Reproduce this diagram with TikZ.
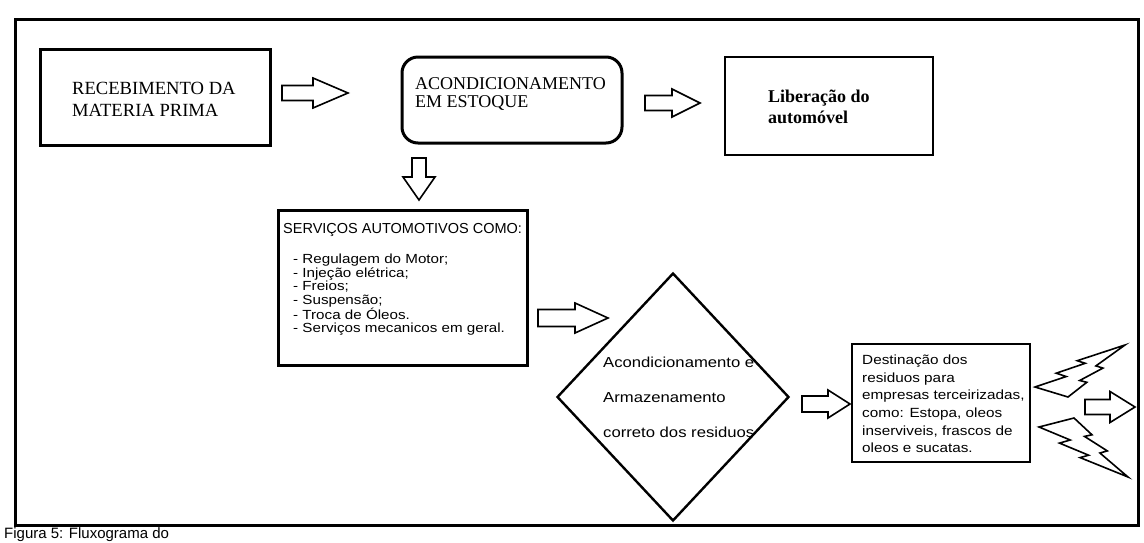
\documentclass[tikz,border=0pt]{standalone}
\usepackage{fontspec}
\setmainfont{Liberation Serif}
\newfontfamily\arial{Liberation Sans}
\newfontfamily\arialwide[FakeStretch=1.15]{Liberation Sans}
\usetikzlibrary{shapes.geometric,calc}

\begin{document}
\begin{tikzpicture}[x=1pt,y=-1pt,
  box/.style={draw, line width=2.6pt, inner sep=0pt},
  thinbox/.style={draw, line width=2pt, inner sep=0pt},
  txt/.style={inner sep=0pt, anchor=west, align=left},
  arrowline/.style={draw, line width=1.6pt, line join=miter, fill=white},
  bolt/.style={draw, line width=1.6pt, line join=miter, fill=white},
  pics/blockarrow/.style args={#1/#2/#3/#4}{code={
    \path[arrowline] (0,-#2) -- (#4,-#2) -- (#4,-#3) -- (#1,0) -- (#4,#3) -- (#4,#2) -- (0,#2) -- cycle;}}
]
\useasboundingbox (0,0) rectangle (1144,542);
\clip (0,0) rectangle (1144,542);
\fill[white] (0,0) rectangle (1144,542);

% outer frame
\draw[line width=3pt] (15,19) rectangle (1138,525);

% top row
\node[box, line width=3pt, minimum width=230pt, minimum height=96pt] (rec) at (155,97) {};
\node[txt, font=\fontsize{18.6}{22}\selectfont] (rectext) at (72,99) {RECEBIMENTO DA\\MATERIA PRIMA};

\node[box, line width=3pt, rounded corners=16pt, minimum width=220pt, minimum height=86pt] (aco) at (512,100) {};
\node[txt, font=\fontsize{18}{18}\selectfont] (acotext) at (415,94) {ACONDICIONAMENTO\\EM ESTOQUE};

\node[thinbox, minimum width=208pt, minimum height=98pt] (lib) at (829,106) {};
\node[txt, font=\bfseries\fontsize{18}{21}\selectfont] (libtext) at (768,107) {Liberação do\\automóvel};

% services
\node[box, line width=3pt, minimum width=249pt, minimum height=155pt] (serv) at (402.5,287.5) {};
\node[txt, font=\arial\fontsize{14.5}{16}\selectfont] (servhead) at (283,230) {SERVIÇOS AUTOMOTIVOS COMO:};
\node[txt, font=\arialwide\fontsize{13.2}{13.4}\selectfont] (servlist) at (293,295) {- Regulagem do Motor;\\- Injeção elétrica;\\- Freios;\\- Suspensão;\\- Troca de Óleos.\\- Serviços mecanicos em geral.};

% storage decision
\node[draw, line width=2.4pt, diamond, minimum width=232pt, minimum height=248pt, inner sep=0pt] (arm) at (673,397) {};
\node[txt, font=\arialwide\fontsize{14.5}{35}\selectfont] (armtext) at (603,397) {Acondicionamento e\\Armazenamento\\correto dos residuos};

% destination
\node[thinbox, minimum width=178pt, minimum height=118pt] (dest) at (941,403) {};
\node[txt, font=\arialwide\fontsize{13.3}{17.6}\selectfont] (desttext) at (862,404) {Destinação dos\\residuos para\\empresas terceirizadas,\\como: Estopa, oleos\\inserviveis, frascos de\\oleos e sucatas.};

% block arrows
\pic at (282,93) {blockarrow=66/7.5/15/31};
\pic at (645,103) {blockarrow=55/7.5/14/27};
\pic[rotate=-90] at (419,158) {blockarrow=42/7/16/19};
\pic at (538,318) {blockarrow=70/8.5/15/37};
\pic at (802,404) {blockarrow=48/8/14/26};
\pic at (1085,407) {blockarrow=50/7.5/15.5/25};

% lightning bolts
\path[bolt] (1068.0,397.0) -- (1035.0,387.0) -- (1066.2,376.5) -- (1056.2,373.2)
  -- (1085.2,363.3) -- (1077.2,360.7) -- (1125.0,345.0) -- (1095.9,365.9)
  -- (1102.9,368.1) -- (1079.7,380.5) -- (1086.8,382.3) -- cycle;
\path[bolt] (1074.0,418.0) -- (1039.0,427.0) -- (1070.2,440.0) -- (1059.5,443.1)
  -- (1088.6,455.2) -- (1080.1,457.6) -- (1128.0,477.0) -- (1099.9,453.0)
  -- (1107.3,450.9) -- (1084.5,436.4) -- (1092.0,434.8) -- cycle;

% caption
\node[anchor=base west, inner sep=0pt, font=\arial\fontsize{15}{18}\selectfont] (cap) at (4,538.5) {Figura 5: Fluxograma do};
\end{tikzpicture}
\end{document}
